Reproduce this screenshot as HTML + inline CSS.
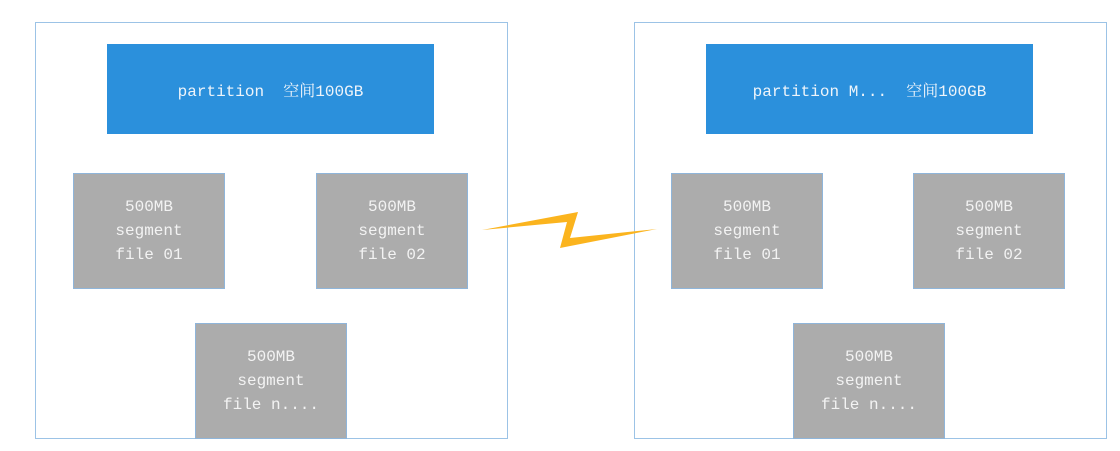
<!DOCTYPE html>
<html><head><meta charset="utf-8"><style>
body{margin:0;width:1120px;height:451px;background:#fff;position:relative;overflow:hidden;font-family:"Liberation Mono","Noto Serif CJK SC",monospace;}
.o{position:absolute;border:1.5px solid #9cc3e6;box-sizing:border-box;}
.b{position:absolute;background:#2b90dc;color:#eef4fa;font-size:16px;display:flex;align-items:center;justify-content:center;white-space:pre;}
.g{position:absolute;background:#acacac;border:1.5px solid #8fb5da;box-sizing:border-box;color:#f3f3f3;font-size:16px;line-height:24px;display:flex;align-items:center;justify-content:center;text-align:center;}
</style></head><body>
<div class="o" style="left:35px;top:22px;width:473px;height:417px"></div>
<div class="o" style="left:634px;top:22px;width:473px;height:417px"></div>
<div class="b" style="left:107px;top:44px;width:327px;height:90px">partition  空间100GB</div>
<div class="b" style="left:706px;top:44px;width:327px;height:90px">partition M...  空间100GB</div>
<div class="g" style="left:73px;top:173px;width:152px;height:116px"><div>500MB<br>segment<br>file 01</div></div>
<div class="g" style="left:316px;top:173px;width:152px;height:116px"><div>500MB<br>segment<br>file 02</div></div>
<div class="g" style="left:195px;top:323px;width:152px;height:116px"><div>500MB<br>segment<br>file n....</div></div>
<div class="g" style="left:671px;top:173px;width:152px;height:116px"><div>500MB<br>segment<br>file 01</div></div>
<div class="g" style="left:913px;top:173px;width:152px;height:116px"><div>500MB<br>segment<br>file 02</div></div>
<div class="g" style="left:793px;top:323px;width:152px;height:116px"><div>500MB<br>segment<br>file n....</div></div>
<svg style="position:absolute;left:0;top:0" width="1120" height="451">
<polygon points="482,230 578,212 570,238 657,229 560,248 567,222" fill="#fbb41e"/>
</svg>
</body></html>
